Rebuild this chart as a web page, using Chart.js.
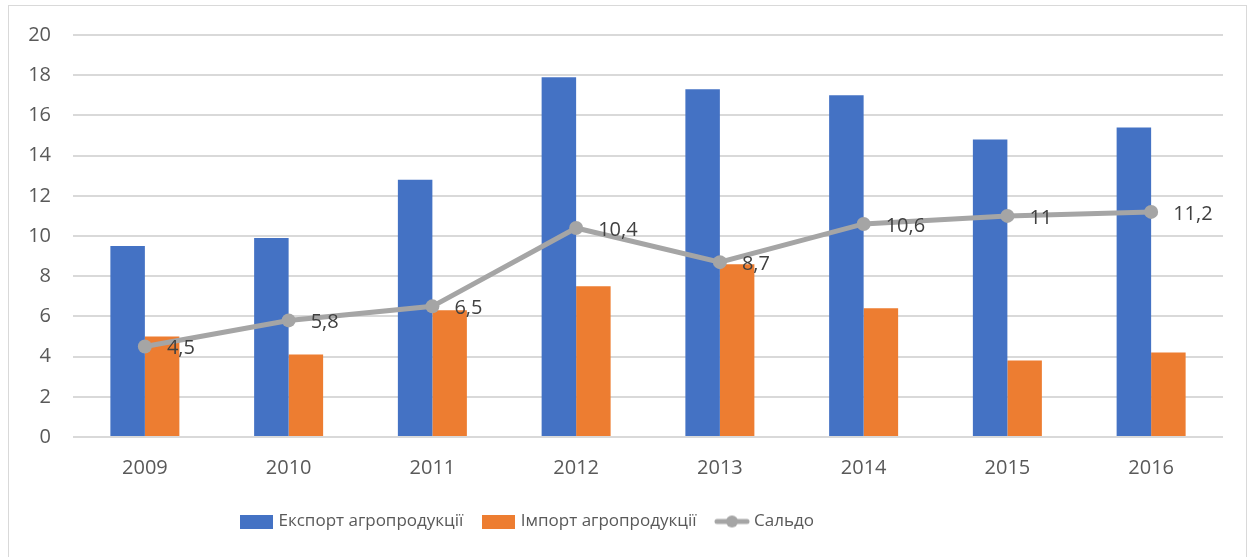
<!DOCTYPE html>
<html>
<head>
<meta charset="utf-8">
<script src="https://cdn.jsdelivr.net/npm/chart.js@4"></script>
<style>
  html, body { margin: 0; padding: 0; background: #fff; }
  #box {
    position: absolute; left: 8px; top: 5px;
    width: 1237px; height: 570px;
    border: 1px solid #d9d9d9; background: #fff;
  }
  canvas { display: block; }
</style>
</head>
<body>
<div id="box"><canvas id="chart" width="1237" height="570"></canvas></div>
<script>
const years = ["2009", "2010", "2011", "2012", "2013", "2014", "2015", "2016"];
const exportVals = [9.5, 9.9, 12.8, 17.9, 17.3, 17.0, 14.8, 15.4];
const importVals = [5.0, 4.1, 6.3, 7.5, 8.6, 6.4, 3.8, 4.2];
const saldoVals = [4.5, 5.8, 6.5, 10.4, 8.7, 10.6, 11, 11.2];
const seriesNames = ["Експорт агропродукції", "Імпорт агропродукції", "Сальдо"];

const FONT = "'Open Sans', 'Noto Sans', sans-serif";
const BLUE = "#4472c4", ORANGE = "#ed7d31", GREY = "#a5a5a5";

// legend swatches as little canvases
function boxSwatch(color) {
  const c = document.createElement("canvas");
  c.width = 33; c.height = 14;
  const g = c.getContext("2d");
  g.fillStyle = color;
  g.fillRect(0, 0, 33, 14);
  return c;
}
function lineSwatch(color) {
  const c = document.createElement("canvas");
  c.width = 36; c.height = 14;
  const g = c.getContext("2d");
  g.strokeStyle = color;
  g.lineWidth = 5;
  g.lineCap = "round";
  g.beginPath(); g.moveTo(3, 7); g.lineTo(33, 7); g.stroke();
  g.fillStyle = color;
  g.beginPath(); g.arc(18, 7, 6, 0, Math.PI * 2); g.fill();
  return c;
}
const swatches = [boxSwatch(BLUE), boxSwatch(ORANGE), lineSwatch(GREY)];

const valueLabels = {
  id: "valueLabels",
  afterDatasetsDraw(chart) {
    const meta = chart.getDatasetMeta(2);
    const ctx = chart.ctx;
    ctx.save();
    ctx.font = "20px " + FONT;
    ctx.fillStyle = "#404040";
    ctx.textAlign = "left";
    ctx.textBaseline = "middle";
    meta.data.forEach((pt, i) => {
      ctx.fillText(String(saldoVals[i]).replace(".", ","), pt.x + 22, pt.y + 2);
    });
    ctx.restore();
  }
};

// the legend sits left of centre in the original
const legendShift = {
  id: "legendShift",
  beforeDraw(chart) { chart.legend.left = 212; }
};

new Chart(document.getElementById("chart"), {
  type: "bar",
  data: {
    labels: years,
    datasets: [
      { label: seriesNames[0], data: exportVals, backgroundColor: BLUE, order: 1,
        categoryPercentage: 0.48, barPercentage: 1 },
      { label: seriesNames[1], data: importVals, backgroundColor: ORANGE, order: 1,
        categoryPercentage: 0.48, barPercentage: 1 },
      { label: seriesNames[2], data: saldoVals, type: "line", order: 0,
        borderColor: GREY, backgroundColor: GREY, borderWidth: 5,
        pointRadius: 7, pointHoverRadius: 7, pointBackgroundColor: GREY,
        pointBorderWidth: 0, tension: 0 }
    ]
  },
  options: {
    responsive: false,
    animation: false,
    layout: { padding: { left: 0, right: 23, top: 29, bottom: 36 } },
    plugins: {
      tooltip: { enabled: false },
      legend: {
        position: "bottom",
        align: "start",
        labels: {
          usePointStyle: true,
          pointStyleWidth: 27,
          padding: 22,
          color: "#595959",
          font: { family: FONT, size: 17 },
          generateLabels: chart => chart.data.datasets.map((ds, i) => ({
            text: ds.label,
            pointStyle: swatches[i],
            fillStyle: "transparent",
            strokeStyle: "transparent",
            lineWidth: 0,
            fontColor: "#595959",
            datasetIndex: i
          }))
        }
      }
    },
    scales: {
      x: {
        grid: { display: false, drawTicks: false },
        border: { display: false },
        ticks: { color: "#595959", padding: 19, font: { family: FONT, size: 20 } },
        afterFit: s => { s.height = 54; }
      },
      y: {
        min: 0, max: 20,
        grid: { color: "#d9d9d9", lineWidth: 2, drawTicks: false },
        border: { display: false },
        ticks: { stepSize: 2, color: "#595959", padding: 22, font: { family: FONT, size: 20 } },
        afterFit: s => { s.width = 64; s.paddingTop = 12; s.paddingBottom = 0; }
      }
    }
  },
  plugins: [valueLabels, legendShift]
});
</script>
</body>
</html>
